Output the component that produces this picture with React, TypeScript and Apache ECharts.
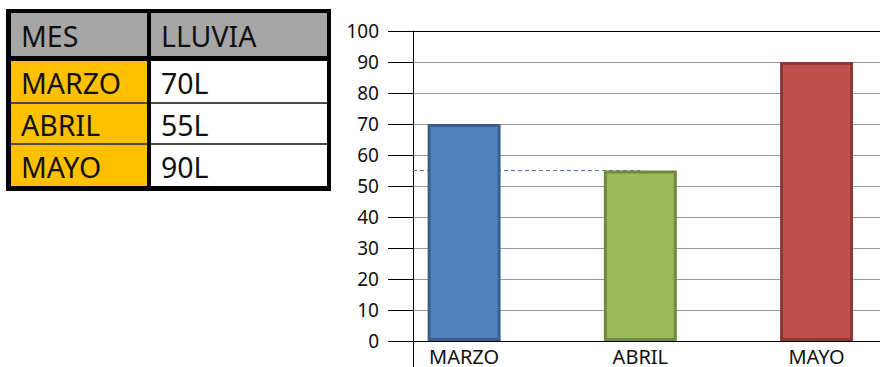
import React, { useEffect, useRef } from "react";
import * as echarts from "echarts";

// ---- data ----
const categories = ["MARZO", "ABRIL", "MAYO"];
const rainValues = [70, 55, 90];
const tableHeader = ["MES", "LLUVIA"];
const rainUnit = "L";
const referenceIndex = 1; // dashed guide at ABRIL's value

// ---- style ----
const barFill = ["#4F81BD", "#9BBB59", "#C0504D"];
const barBorder = ["#3A5F8B", "#71893F", "#8C3836"];
const FONT = "'Noto Sans', 'Open Sans', sans-serif";
const X_MIN = -0.29;
const X_MAX = 2.36;

function buildTable() {
  const els: any[] = [];
  const colX = [
    [11, 147],
    [151, 327],
  ];
  const rowY = [
    [13, 56],
    [61, 102],
    [104, 143],
    [145, 186],
  ];
  els.push({ type: "rect", shape: { x: 6, y: 9, width: 325, height: 182 }, style: { fill: "#000" }, silent: true });
  colX.forEach(([a, b]) => {
    els.push({ type: "rect", shape: { x: a, y: 61, width: b - a, height: 186 - 61 }, style: { fill: "#4a4a4a" }, silent: true });
  });
  const rows: string[][] = [tableHeader, ...categories.map((c, i) => [c, `${rainValues[i]}${rainUnit}`])];
  rows.forEach((row, r) => {
    const [y0, y1] = rowY[r];
    row.forEach((txt, c) => {
      const [x0, x1] = colX[c];
      const fill = r === 0 ? "#A6A6A6" : c === 0 ? "#FFC000" : "#FFFFFF";
      els.push({ type: "rect", shape: { x: x0, y: y0, width: x1 - x0, height: y1 - y0 }, style: { fill }, silent: true });
      els.push({
        type: "text",
        x: c === 0 ? 21 : 161,
        y: (y0 + y1) / 2 + 1,
        silent: true,
        style: { text: txt, fontFamily: FONT, fontSize: 28.5, fill: "#111", align: "left", verticalAlign: "middle" },
      });
    });
  });
  return els;
}

export default function App() {
  const ref = useRef<HTMLDivElement>(null);
  useEffect(() => {
    const chart = echarts.init(ref.current!, null, { renderer: "svg" });
    const splitColors = Array.from({ length: 11 }, (_, i) => (i === 0 || i === 10 ? "#000" : "#999999"));
    const refVal = rainValues[referenceIndex];
    chart.setOption({
      animation: false,
      backgroundColor: "#fff",
      grid: { left: 413, right: 0, top: 31, bottom: 26, containLabel: false },
      xAxis: {
        type: "value",
        min: X_MIN,
        max: X_MAX,
        axisLine: { show: true, onZero: false, lineStyle: { color: "#000", width: 1 } },
        axisTick: { show: true, customValues: [X_MIN], length: 26, inside: false, lineStyle: { color: "#000", width: 1 } },
        axisLabel: {
          customValues: categories.map((_, i) => i),
          formatter: (v: number) => categories[Math.round(v)] ?? "",
          fontFamily: FONT,
          fontSize: 20,
          color: "#111",
          margin: 5,
        },
        splitLine: { show: false },
      },
      yAxis: {
        type: "value",
        min: 0,
        max: 100,
        interval: 10,
        axisLine: { show: true, onZero: false, lineStyle: { color: "#000", width: 1 } },
        axisTick: { show: true, length: 25, inside: false, lineStyle: { color: "#000", width: 1 } },
        axisLabel: { fontFamily: FONT, fontSize: 19, color: "#111", margin: 34 },
        splitLine: { show: true, lineStyle: { color: splitColors, width: 1 } },
      },
      series: [
        {
          type: "bar",
          z: 2,
          barWidth: 73,
          emphasis: { disabled: true },
          data: rainValues.map((v, i) => ({
            value: [i, v],
            itemStyle: { color: barFill[i], borderColor: barBorder[i], borderWidth: 3 },
          })),
          markLine: {
            z: 1,
            silent: true,
            symbol: ["none", "none"],
            label: { show: false },
            lineStyle: { color: "#4F81BD", type: [4, 3], width: 1 },
            data: [[{ coord: [X_MIN, refVal] }, { coord: [referenceIndex, refVal] }]],
          },
        },
      ],
      graphic: buildTable(),
    });
    return () => chart.dispose();
  }, []);
  return (
    <div
      ref={ref}
      style={{ position: "fixed", left: 0, top: 0, width: 880, height: 367, background: "#fff" }}
    />
  );
}
